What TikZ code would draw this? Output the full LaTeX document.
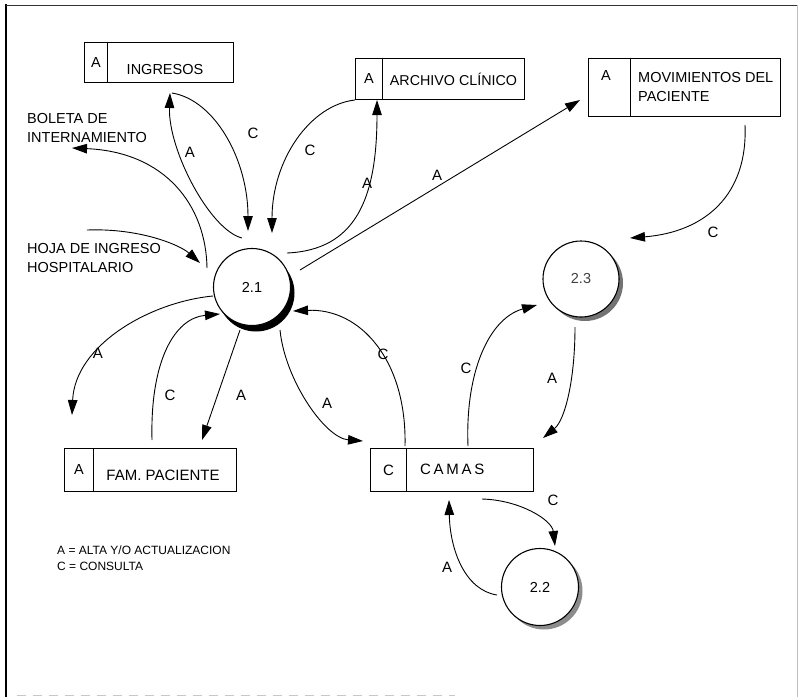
\documentclass[tikz,border=0pt]{standalone}
\usepackage{fontspec}
\setmainfont{Liberation Sans}
\usetikzlibrary{arrows.meta}
\begin{document}
\begin{tikzpicture}[x=1pt,y=-1pt,
  every node/.style={inner sep=0pt},
  store/.style={draw, line width=1pt, anchor=north west},
  txt/.style={font=\fontsize{14.5}{19.5}\selectfont, align=left},
  small/.style={font=\fontsize{12}{16.5}\selectfont, align=left},
  lbl/.style={font=\fontsize{15}{16}\selectfont},
  proc/.style={circle, draw, fill=white, line width=1.1pt, minimum size=77pt,
    font=\fontsize{14.5}{16}\selectfont},
  flow/.style={line width=0.9pt, -{Triangle[length=15pt,width=9.5pt]}}]

\useasboundingbox (0,0) rectangle (798,697);

% page frame
\draw[line width=1.6pt] (6,4) -- (6,697);
\draw[line width=0.6pt, black!80] (6,5) -- (798,5);
\draw[line width=0.5pt, black!25] (797,5) -- (797,697);
\draw[line width=0.6pt, black!22, dash pattern=on 9pt off 7pt] (17,695) -- (455,695);

% data stores
\node[store, minimum width=23pt, minimum height=40pt, font=\fontsize{14.5}{16}\selectfont] (ingT) at (84,42) {A};
\node[store, minimum width=126pt, minimum height=40pt] (ingN) at (107,42) {};
\node[txt] (ingL) at (165,70) {INGRESOS};

\node[store, minimum width=27pt, minimum height=41pt, font=\fontsize{14.5}{16}\selectfont] (arcT) at (355,58) {A};
\node[store, minimum width=142pt, minimum height=41pt, font=\fontsize{14.3}{16}\selectfont] (arcN) at (382,58) {ARCHIVO CLÍNICO};

\node[store, minimum width=42pt, minimum height=58pt] (movT) at (588,58) {};
\node[txt] (movA) at (606,76) {A};
\node[store, minimum width=150pt, minimum height=58pt] (movN) at (630,58) {};
\node[txt, anchor=west] (movL) at (638,87) {MOVIMIENTOS DEL\\PACIENTE};

\node[store, minimum width=29pt, minimum height=43pt, font=\fontsize{14.5}{16}\selectfont] (famT) at (64,448) {A};
\node[store, minimum width=143pt, minimum height=43pt] (famN) at (93,448) {};
\node[font=\fontsize{15}{16}\selectfont] (famL) at (163,475) {FAM. PACIENTE};

\node[store, minimum width=36pt, minimum height=43pt, font=\fontsize{15}{16}\selectfont] (camT) at (370,448) {C};
\node[store, minimum width=127pt, minimum height=43pt] (camN) at (406,448) {};
\node[anchor=west, font=\fontsize{15}{16}\selectfont\addfontfeatures{LetterSpace=18}] (camL) at (420,469) {CAMAS};

% external flows and legend
\node[txt, anchor=west] (boleta) at (27,128) {BOLETA DE\\INTERNAMIENTO};
\node[txt, anchor=west] (hoja) at (27,258) {HOJA DE INGRESO\\HOSPITALARIO};
\node[small, anchor=west] (legend) at (57,558) {A = ALTA Y/O ACTUALIZACION\\C = CONSULTA};

% processes with their shadows
\coordinate (c21) at (252,287);
\coordinate (c23) at (581,279);
\coordinate (c22) at (540,587);
\fill[black] ([shift={(4,6)}]c21) circle (38.5pt);
\fill[black!55] ([shift={(4,4)}]c23) circle (38pt);
\fill[black!45] ([shift={(4,4)}]c22) circle (38.5pt);
\node[proc] (p21) at (c21) {2.1};
\node[proc, minimum size=76pt, text=black!75] (p23) at (c23) {2.3};
\node[proc] (p22) at (c22) {2.2};

% connector end points
\coordinate (bolS) at (207,268);
\coordinate (bolE) at (72,148);
\coordinate (hojS) at (87,230);
\coordinate (hojE) at (200,263);
\coordinate (ingA1) at (242,238);
\coordinate (ingA2) at (170,93);
\coordinate (ingC1) at (172,93);
\coordinate (ingC2) at (248,231);
\coordinate (arcC1) at (355,100);
\coordinate (arcC2) at (272,233);
\coordinate (arcA1) at (287,253);
\coordinate (arcA2) at (377,100);
\coordinate (movA1) at (300,270);
\coordinate (movA2) at (580,100);
\coordinate (movC1) at (745,125);
\coordinate (movC2) at (630,238);
\coordinate (famA1) at (213,296);
\coordinate (famA2) at (72,415);
\coordinate (famC1) at (152,440);
\coordinate (famC2) at (220,314);
\coordinate (famB1) at (240,330);
\coordinate (famB2) at (202,440);
\coordinate (camA1) at (280,330);
\coordinate (camA2) at (363,441);
\coordinate (camC1) at (405,446);
\coordinate (camC2) at (293,311);
\coordinate (c23C1) at (468,446);
\coordinate (c23C2) at (537,305);
\coordinate (c23A1) at (575,327);
\coordinate (c23A2) at (543,438);
\coordinate (c22C1) at (482,499);
\coordinate (c22C2) at (555,546);
\coordinate (c22A1) at (497,595);
\coordinate (c22A2) at (449,500);

% flows around process 2.1
\draw[flow] (bolS) .. controls (206,205) and (165,152) .. (bolE);
\draw[flow] (hojS) .. controls (140,228) and (180,245) .. (hojE);
\draw[flow] (ingA1) .. controls (210,230) and (168,150) .. (ingA2);
\draw[flow] (ingC1) .. controls (215,100) and (248,160) .. (ingC2);
\draw[flow] (arcC1) .. controls (310,105) and (272,160) .. (arcC2);
\draw[flow] (arcA1) .. controls (355,250) and (377,200) .. (arcA2);
\draw[flow] (movA1) -- (movA2);
\draw[flow] (famA1) .. controls (150,302) and (75,345) .. (famA2);
\draw[flow] (famC1) .. controls (150,360) and (175,318) .. (famC2);
\draw[flow] (famB1) -- (famB2);
\draw[flow] (camA1) .. controls (285,380) and (325,438) .. (camA2);
\draw[flow] (camC1) .. controls (407,360) and (360,308) .. (camC2);

% flows around processes 2.3 and 2.2
\draw[flow] (movC1) .. controls (748,195) and (705,232) .. (movC2);
\draw[flow] (c23C1) .. controls (465,370) and (490,318) .. (c23C2);
\draw[flow] (c23A1) .. controls (575,380) and (565,420) .. (c23A2);
\draw[flow] (c22C1) .. controls (520,500) and (552,520) .. (c22C2);
\draw[flow] (c22A1) .. controls (465,590) and (450,550) .. (c22A2);

% flow labels
\node[lbl] (l1) at (190,152) {A};
\node[lbl] (l2) at (253,133) {C};
\node[lbl] (l3) at (310,150) {C};
\node[lbl] (l4) at (367,183) {A};
\node[lbl] (l5) at (437,175) {A};
\node[lbl] (l6) at (713,232) {C};
\node[lbl] (l7) at (98,353) {A};
\node[lbl] (l8) at (170,395) {C};
\node[lbl] (l9) at (241,395) {A};
\node[lbl] (l10) at (327,403) {A};
\node[lbl] (l11) at (383,354) {C};
\node[lbl] (l12) at (466,368) {C};
\node[lbl] (l13) at (552,378) {A};
\node[lbl] (l14) at (553,500) {C};
\node[lbl] (l15) at (447,567) {A};
\end{tikzpicture}
\end{document}
